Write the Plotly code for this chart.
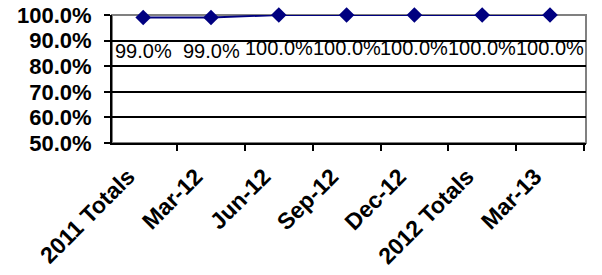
import plotly.graph_objects as go

categories = ["2011 Totals", "Mar-12", "Jun-12", "Sep-12", "Dec-12", "2012 Totals", "Mar-13"]
values = [0.99, 0.99, 1.0, 1.0, 1.0, 1.0, 1.0]
label_texts = ["99.0%", "99.0%", "100.0%", "100.0%", "100.0%", "100.0%", "100.0%"]
y_ticks = [0.5, 0.6, 0.7, 0.8, 0.9, 1.0]
inner_grid = [0.6, 0.7, 0.8, 0.9]

fig = go.Figure()
fig.add_trace(go.Scatter(
    x=categories, y=values, mode="lines+markers",
    line=dict(color="#000080", width=2),
    marker=dict(symbol="diamond", size=12, color="#000080"),
    cliponaxis=False, hoverinfo="skip",
))

for c, v, t in zip(categories, values, label_texts):
    fig.add_annotation(x=c, y=v, text=t, showarrow=False, yshift=-33,
                       font=dict(family="Liberation Sans, Arial", size=20, color="black"))

fig.add_shape(type="rect", xref="paper", yref="paper", x0=0, y0=0, x1=1, y1=1,
              line=dict(color="#808080", width=2), layer="below")

fig.update_layout(
    width=602, height=275,
    margin=dict(l=112, r=16, t=15, b=132),
    paper_bgcolor="white", plot_bgcolor="white",
    showlegend=False,
    font=dict(family="Liberation Sans, Arial", color="black"),
)
fig.update_xaxes(
    type="category", tickson="boundaries", ticks="outside", ticklen=6, tickwidth=2,
    tickcolor="black", showline=True, linecolor="black", linewidth=2,
    showgrid=False, tickangle=-45, automargin=False, ticklabeloverflow="allow",
    tickfont=dict(family="Liberation Sans, Arial", size=23, color="black", weight="bold"),
    ticklabelstandoff=9, ticklabelshift=-15,
)
fig.update_yaxes(
    range=[0.5, 1.0], tickvals=y_ticks, tickformat=".1%", automargin=False,
    ticklabeloverflow="allow",
    ticks="outside", ticklen=6, tickwidth=2, tickcolor="black",
    showline=True, linecolor="black", linewidth=2,
    showgrid=False, zeroline=False,
    minor=dict(tickvals=inner_grid, showgrid=True, gridcolor="black", gridwidth=2, ticks=""),
    tickfont=dict(family="Liberation Sans, Arial", size=22, color="black", weight="bold"),
    ticklabelstandoff=8,
)

fig.write_html("out.html", config={"displayModeBar": False},
               post_script="document.body.style.margin='0';")
